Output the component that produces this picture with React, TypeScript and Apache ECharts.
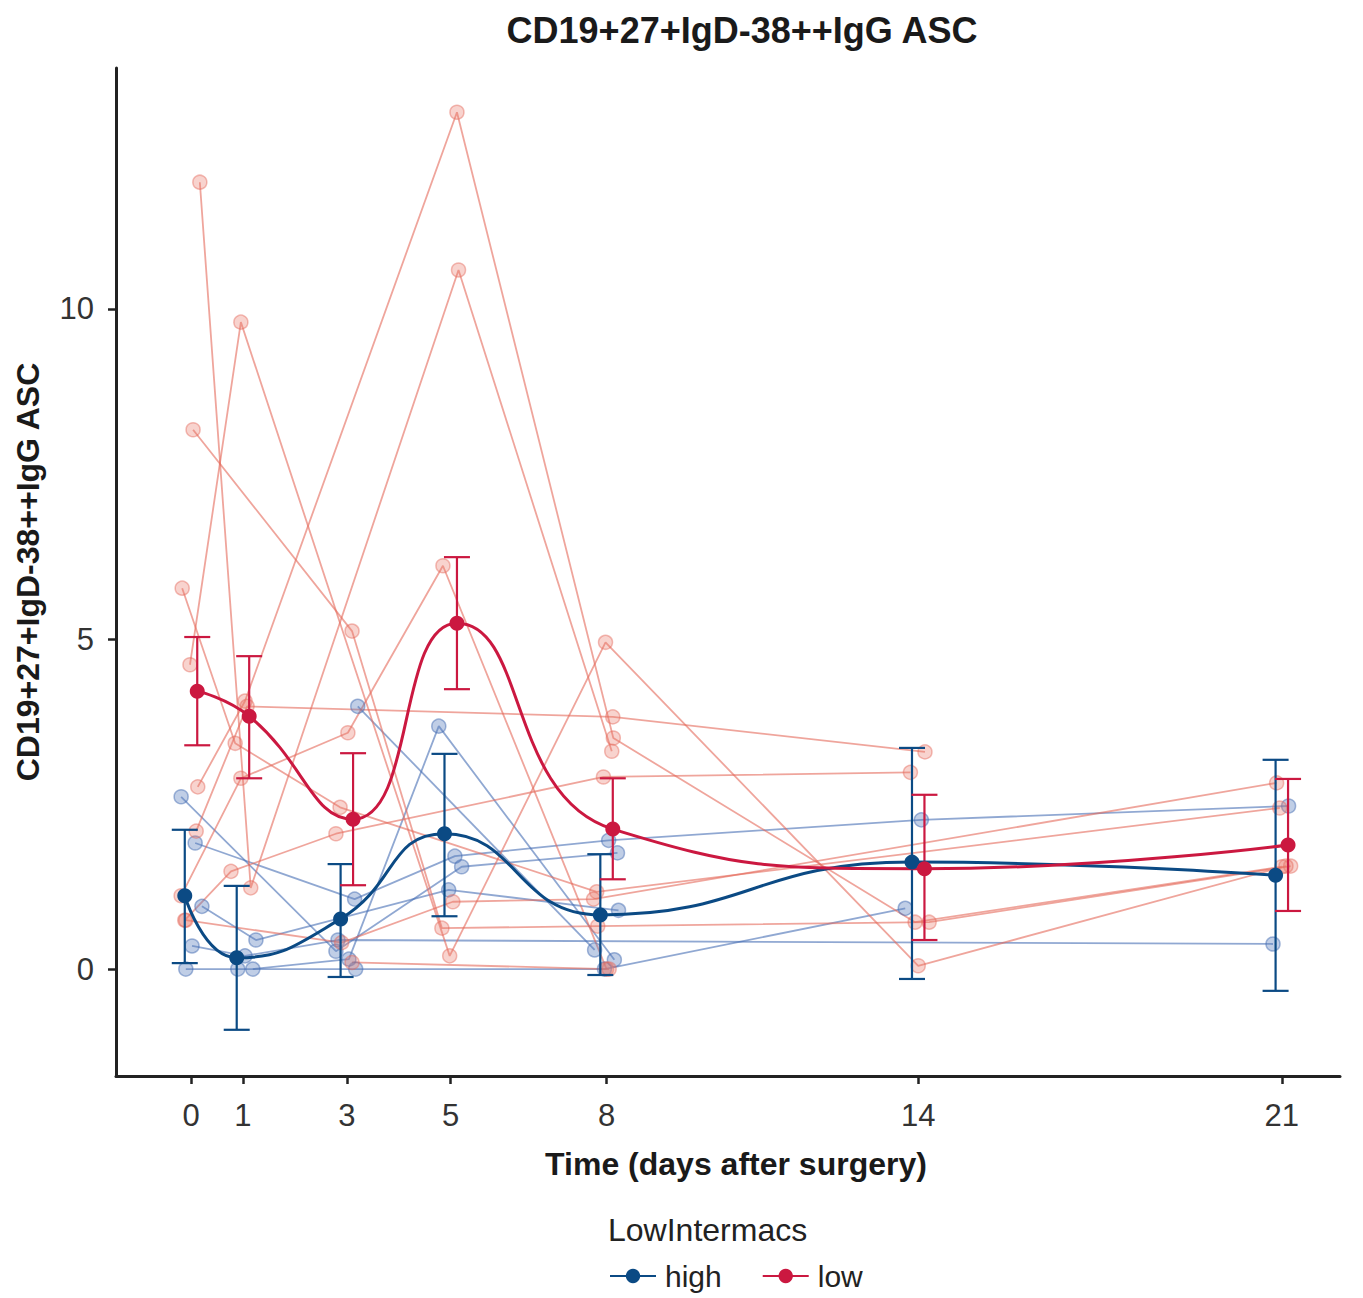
import React, { useEffect, useRef } from "react";
import * as echarts from "echarts";

// ---- data ----
const days = [0, 1, 3, 5, 8, 14, 21];

const highMean = [1.11, 0.17, 0.76, 2.05, 0.82, 1.62, 1.42];
const highLower = [0.09, -0.92, -0.12, 0.8, -0.09, -0.15, -0.33];
const highUpper = [2.11, 1.26, 1.59, 3.26, 1.74, 3.35, 3.17];

const lowMean = [4.21, 3.83, 2.27, 5.24, 2.12, 1.52, 1.88];
const lowLower = [3.39, 2.89, 1.27, 4.24, 1.36, 0.44, 0.88];
const lowUpper = [5.03, 4.74, 3.27, 6.24, 2.89, 2.64, 2.88];

const yTicks = [0, 5, 10];

// individual subjects: [jittered day, value]
const highSubjects: number[][][] = [
  [[-0.19, 2.61], [2.79, 0.27], [5.21, 1.55], [8.21, 1.76]],
  [[0.08, 1.91], [3.15, 1.06], [5.08, 1.71], [8.04, 1.95], [14.06, 2.26], [21.13, 2.47]],
  [[0.21, 0.95], [1.25, 0.44], [4.96, 1.2], [8.23, 0.89]],
  [[0.02, 0.35], [1.04, 0.2], [2.83, 0.44], [20.83, 0.38]],
  [[-0.1, 0.0], [0.9, 0.0], [3.17, 0.0], [7.96, 0.0], [13.75, 0.92]],
  [[1.19, 0.0], [3.04, 0.15], [4.77, 3.68], [8.15, 0.14]],
  [[3.21, 3.98], [7.77, 0.29]],
];

const lowSubjects: number[][][] = [
  [[0.17, 11.92], [1.15, 1.23], [5.15, 10.59], [8.1, 3.3]],
  [[0.04, 8.17], [3.1, 5.12], [4.83, 0.62], [7.83, 0.65], [14.21, 0.71], [21.17, 1.56]],
  [[-0.02, 4.61], [0.96, 9.8], [4.98, 0.2], [7.98, 4.95], [14.0, 0.05], [21.08, 1.56]],
  [[0.13, 2.76], [1.04, 4.06], [5.12, 12.98], [8.13, 3.5], [13.94, 0.71], [21.0, 1.55]],
  [[-0.17, 5.77], [0.85, 3.42], [2.87, 2.45], [7.81, 1.17], [20.96, 2.44]],
  [[0.1, 2.09], [1.08, 3.98], [8.12, 3.82], [14.13, 3.29]],
  [[-0.19, 1.11], [0.96, 2.89], [3.02, 3.58], [4.85, 6.11], [8.0, 0.0]],
  [[-0.12, 0.74], [0.77, 1.48], [2.79, 2.05], [7.94, 2.91], [13.85, 2.98]],
  [[-0.1, 0.74], [2.9, 0.4], [5.04, 1.02], [7.75, 1.06], [20.9, 2.82]],
  [[3.1, 0.1], [8.05, 0.0]],
];

const FONT = "'Liberation Sans', Arial, Helvetica, sans-serif";
const HIGH = "#0B4A84";
const LOW = "#CB1840";
const DODGE = 0.12;

export default function App() {
  const ref = useRef<HTMLDivElement>(null);

  useEffect(() => {
    if (!ref.current) return;
    const chart = echarts.init(ref.current, undefined, { renderer: "svg" });

    const indiv = (subs: number[][][], line: string, fill: string, border: string, name: string) =>
      subs.map((s, i) => ({
        name: `${name}_${i}`,
        type: "line",
        data: s,
        symbol: "circle",
        symbolSize: 14,
        lineStyle: { color: line, width: 1.8 },
        itemStyle: { color: fill, borderColor: border, borderWidth: 1.5 },
        emphasis: { disabled: true },
        z: 2,
        silent: true,
      }));

    const errBars = (name: string, off: number, lo: number[], hi: number[], color: string) => ({
      name: name + "_err",
      type: "custom",
      z: 5,
      silent: true,
      data: days.map((d, i) => [d + off, lo[i], hi[i]]),
      encode: { x: 0, y: [1, 2] },
      renderItem: (params: any, api: any) => {
        const x = api.value(0);
        const a = api.coord([x, api.value(1)]);
        const b = api.coord([x, api.value(2)]);
        const w = 13;
        const st = { stroke: color, lineWidth: 2.2 };
        return {
          type: "group",
          children: [
            { type: "line", shape: { x1: a[0], y1: a[1], x2: b[0], y2: b[1] }, style: st },
            { type: "line", shape: { x1: a[0] - w, y1: a[1], x2: a[0] + w, y2: a[1] }, style: st },
            { type: "line", shape: { x1: b[0] - w, y1: b[1], x2: b[0] + w, y2: b[1] }, style: st },
          ],
        };
      },
    });

    const meanSeries = (name: string, off: number, vals: number[], color: string) => ({
      name,
      type: "line",
      smooth: 0.5,
      data: days.map((d, i) => [d + off, vals[i]]),
      symbol: "circle",
      symbolSize: 15,
      lineStyle: { color, width: 3 },
      itemStyle: { color },
      z: 6,
      silent: true,
    });

    chart.setOption({
      animation: false,
      backgroundColor: "#ffffff",
      textStyle: { fontFamily: FONT },
      title: {
        text: "CD19+27+IgD-38++IgG ASC",
        left: 737,
        top: 7,
        textAlign: "center",
        textStyle: { fontFamily: FONT, fontSize: 36, fontWeight: "bold", color: "#1a1a1a" },
      },
      grid: { left: 116, right: 23, top: 68, bottom: 222, containLabel: false },
      xAxis: {
        type: "value",
        min: -1.444,
        max: 22.12,
        name: "Time (days after surgery)",
        nameLocation: "middle",
        nameGap: 72,
        nameTextStyle: {
          fontFamily: FONT,
          fontSize: 32,
          fontWeight: "bold",
          color: "#1a1a1a",
          padding: [0, 0, 0, 16],
        },
        axisLine: { show: true, onZero: false, lineStyle: { color: "#222", width: 3 } },
        axisTick: { show: true, length: 8, lineStyle: { color: "#222", width: 2.5 }, customValues: days },
        axisLabel: { fontFamily: FONT, fontSize: 31, color: "#333", margin: 24, customValues: days },
        splitLine: { show: false },
      },
      yAxis: {
        type: "value",
        min: -1.62,
        max: 13.65,
        name: "CD19+27+IgD-38++IgG ASC",
        nameLocation: "middle",
        nameGap: 72,
        nameRotate: 90,
        nameTextStyle: { fontFamily: FONT, fontSize: 32, fontWeight: "bold", color: "#1a1a1a" },
        axisLine: { show: true, onZero: false, lineStyle: { color: "#222", width: 3 } },
        axisTick: { show: true, length: 8, lineStyle: { color: "#222", width: 2.5 }, customValues: yTicks },
        axisLabel: { fontFamily: FONT, fontSize: 31, color: "#333", margin: 22, customValues: yTicks },
        splitLine: { show: false },
      },
      legend: {
        data: ["high", "low"],
        left: 604,
        top: 1256,
        itemWidth: 46,
        itemHeight: 18,
        itemGap: 40,
        textStyle: { fontFamily: FONT, fontSize: 30, color: "#222", lineHeight: 30, padding: [0, 0, 0, 4] },
        selectedMode: false,
      },
      graphic: [
        {
          type: "text",
          left: 608,
          top: 1214,
          style: { text: "LowIntermacs", fontFamily: FONT, fontSize: 32, fill: "#222" },
        },
      ],
      series: [
        ...indiv(highSubjects, "rgba(70,110,180,0.6)", "rgba(90,125,190,0.38)", "rgba(70,110,180,0.5)", "h"),
        ...indiv(lowSubjects, "rgba(228,105,90,0.6)", "rgba(235,120,105,0.33)", "rgba(228,105,90,0.45)", "l"),
        errBars("high", -DODGE, highLower, highUpper, HIGH),
        errBars("low", DODGE, lowLower, lowUpper, LOW),
        meanSeries("high", -DODGE, highMean, HIGH),
        meanSeries("low", DODGE, lowMean, LOW),
      ],
    });

    return () => chart.dispose();
  }, []);

  return (
    <div
      ref={ref}
      style={{ position: "absolute", left: 0, top: 0, width: 1363, height: 1298, background: "#fff" }}
    />
  );
}
